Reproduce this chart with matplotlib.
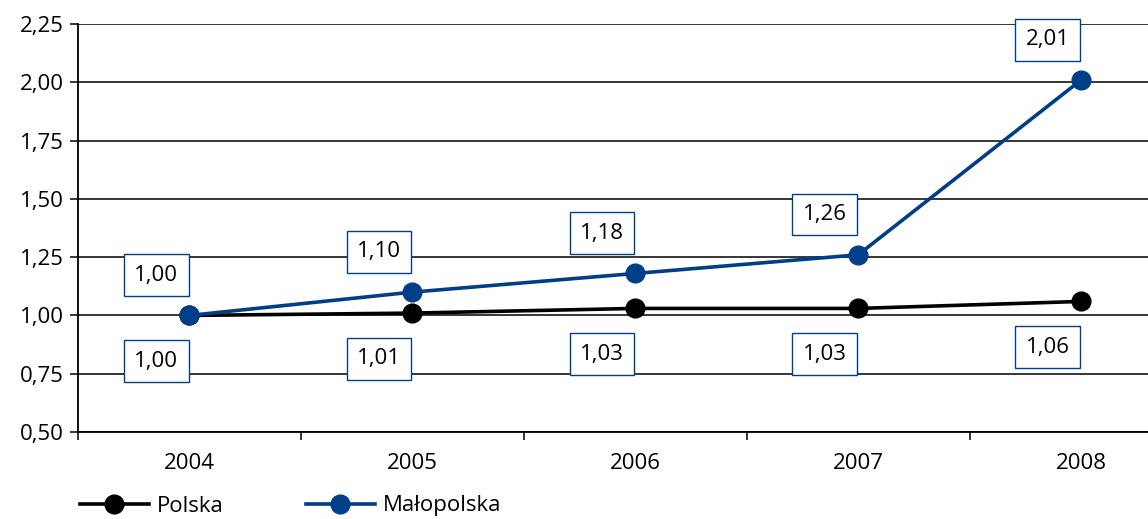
import matplotlib.pyplot as plt
import numpy as np

plt.rcParams['font.family'] = ['Open Sans', 'DejaVu Sans']

# data
years = ['2004', '2005', '2006', '2007', '2008']
polska = [1.00, 1.01, 1.03, 1.03, 1.06]
malopolska = [1.00, 1.10, 1.18, 1.26, 2.01]
polska_labels = ['1,00', '1,01', '1,03', '1,03', '1,06']
malo_labels = ['1,00', '1,10', '1,18', '1,26', '2,01']
yticks = [0.50, 0.75, 1.00, 1.25, 1.50, 1.75, 2.00, 2.25]

blue = '#003f87'
fs = 16

fig = plt.figure(figsize=(11.48, 5.19), dpi=100)
ax = fig.add_axes([78/1148, 1 - 432/519, 1 - 78/1148, (432 - 24)/519])

x = np.arange(len(years))
ax.plot(x, polska, color='black', lw=2.6, marker='o', ms=13.5, zorder=3, label='Polska')
ax.plot(x, malopolska, color=blue, lw=2.6, marker='o', ms=13.5, zorder=4, label='Małopolska')

box = dict(boxstyle='square,pad=0.47', fc='white', ec=blue, lw=1.0)
for i in range(len(years)):
    ax.annotate(malo_labels[i], (x[i], malopolska[i]), xytext=(-24, 29),
                textcoords='offset points', ha='center', va='center',
                fontsize=fs, bbox=box, zorder=5)
    ax.annotate(polska_labels[i], (x[i], polska[i]), xytext=(-24, -33),
                textcoords='offset points', ha='center', va='center',
                fontsize=fs, bbox=box, zorder=5)

ax.set_xlim(-0.5, 4.3)
ax.set_ylim(0.5, 2.25)
ax.set_yticks(yticks)
ax.set_yticklabels([('%.2f' % v).replace('.', ',') for v in yticks], fontsize=fs)
ax.yaxis.grid(True, color='black', lw=1.1)
ax.set_axisbelow(True)

ax.set_xticks(np.arange(-0.5, 4.0, 1.0))
ax.set_xticklabels([])
ax.set_xticks(x, minor=True)
ax.set_xticklabels(years, minor=True, fontsize=fs)
ax.tick_params(axis='x', which='major', direction='out', length=6, width=1.1)
ax.tick_params(axis='x', which='minor', length=0, pad=15)
ax.tick_params(axis='y', direction='out', length=6, width=1.1, pad=4)

for s in ['top', 'right']:
    ax.spines[s].set_visible(False)
for s in ['left', 'bottom']:
    ax.spines[s].set_linewidth(1.3)

fig.legend(loc='center left', bbox_to_anchor=(80/1148, 1 - 506/519), ncol=2,
           frameon=False, fontsize=fs, handlelength=3.1, handletextpad=0.35,
           columnspacing=3.7, borderpad=0, borderaxespad=0)

fig.savefig('out.png', dpi=100)
